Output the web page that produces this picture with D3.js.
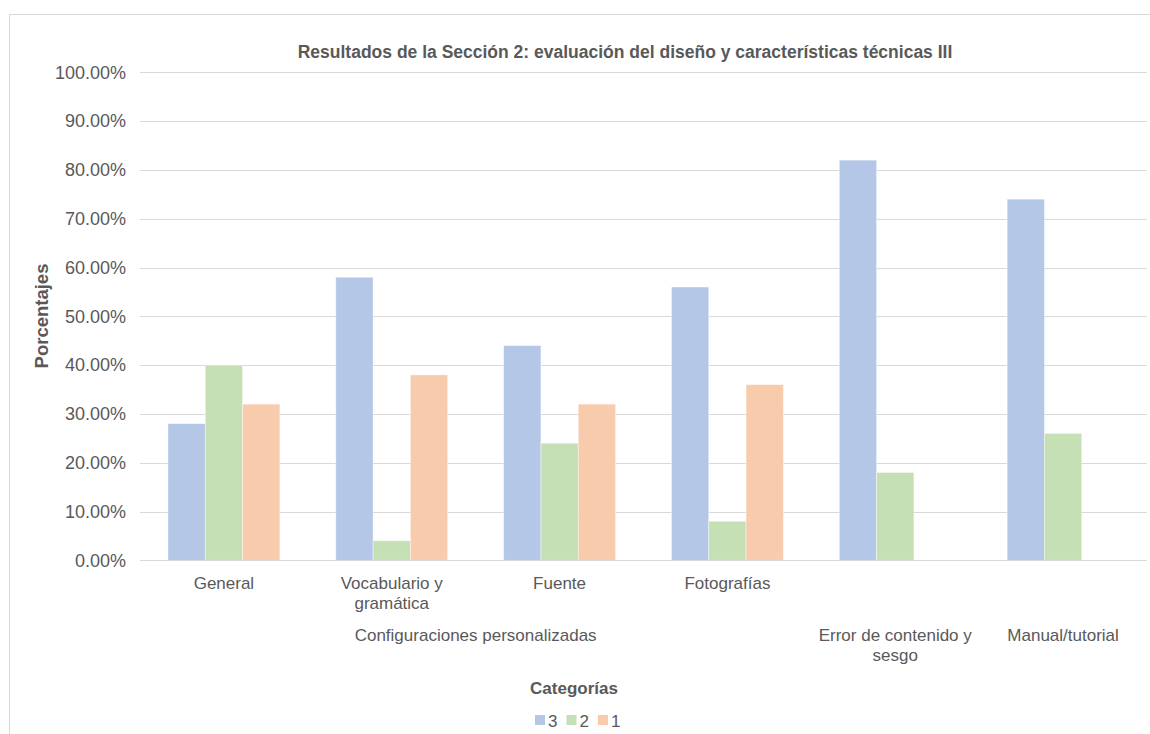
<!DOCTYPE html>
<html>
<head>
<meta charset="utf-8">
<script src="https://cdn.jsdelivr.net/npm/d3@7"></script>
<style>
  html, body { margin: 0; padding: 0; background: #fff; }
  svg { display: block; font-family: "Liberation Sans", Arial, sans-serif; }
</style>
</head>
<body>
<svg id="chart" width="1150" height="734"></svg>
<script>
// Sub-categories (bottom row labels, may wrap to two lines)
const categories = [
  ["General"],
  ["Vocabulario y", "gramática"],
  ["Fuente"],
  ["Fotografías"],
  [""],
  [""]
];
// Outer grouping row: label, first index, last index
const groups = [
  { label: ["Configuraciones personalizadas"], from: 0, to: 3 },
  { label: ["Error de contenido y", "sesgo"], from: 4, to: 4 },
  { label: ["Manual/tutorial"], from: 5, to: 5 }
];
const seriesNames = ["3", "2", "1"];
const values3 = [0.28, 0.58, 0.44, 0.56, 0.82, 0.74];
const values2 = [0.40, 0.04, 0.24, 0.08, 0.18, 0.26];
const values1 = [0.32, 0.38, 0.32, 0.36, null, null];
const yTicks = [0, 0.1, 0.2, 0.3, 0.4, 0.5, 0.6, 0.7, 0.8, 0.9, 1.0];

const title = "Resultados de la Sección 2: evaluación del diseño y características técnicas III";
const yTitle = "Porcentajes";
const xTitle = "Categorías";

const colors = ["#B4C7E7", "#C5E0B4", "#F8CBAD"];
const textColor = "#595959";
const gridColor = "#D9D9D9";

const svg = d3.select("#chart");

// chart border
svg.append("rect")
  .attr("x", 9.5).attr("y", 14.5)
  .attr("width", 1300).attr("height", 900)
  .attr("fill", "#fff").attr("stroke", gridColor).attr("stroke-width", 1);

const plot = { left: 140, right: 1147, top: 72.3, bottom: 560.3 };

const x = d3.scaleBand()
  .domain(d3.range(categories.length))
  .range([plot.left, plot.right])
  .paddingInner(0).paddingOuter(0);

const inner = d3.scaleBand()
  .domain(d3.range(seriesNames.length))
  .range([0, x.bandwidth()])
  .paddingInner(0)
  .paddingOuter(0.75); // 150% gap width split across both sides

const y = d3.scaleLinear().domain([0, 1]).range([plot.bottom, plot.top]);

// gridlines
svg.append("g")
  .selectAll("line")
  .data(yTicks)
  .join("line")
  .attr("x1", plot.left).attr("x2", plot.right)
  .attr("y1", d => Math.round(y(d)) + 0.5).attr("y2", d => Math.round(y(d)) + 0.5)
  .attr("stroke", gridColor).attr("stroke-width", 1.2);

// y-axis labels
const yAxis = d3.axisLeft(y)
  .tickValues(yTicks)
  .tickFormat(d => (d * 100).toFixed(2) + "%")
  .tickSize(0).tickPadding(14);
const yg = svg.append("g").attr("transform", `translate(${plot.left},0)`).call(yAxis);
yg.select(".domain").remove();
yg.selectAll("text")
  .attr("fill", textColor)
  .style("font-size", "18px")
  .style("font-family", "Liberation Sans, Arial, sans-serif");

// bars
const seriesData = [values3, values2, values1];
seriesData.forEach((vals, s) => {
  svg.append("g")
    .selectAll("rect")
    .data(vals.map((v, i) => ({ v, i })).filter(d => d.v !== null))
    .join("rect")
    .attr("x", d => x(d.i) + inner(s))
    .attr("width", inner.bandwidth())
    .attr("y", d => y(d.v))
    .attr("height", d => y(0) - y(d.v))
    .attr("fill", colors[s])
    .attr("stroke", "#ffffff")
    .attr("stroke-opacity", 0.5)
    .attr("stroke-width", 0.8);
});

// baseline
svg.append("line")
  .attr("x1", plot.left).attr("x2", plot.right)
  .attr("y1", Math.round(y(0)) + 0.5).attr("y2", Math.round(y(0)) + 0.5)
  .attr("stroke", gridColor).attr("stroke-width", 1.2);

// category labels (first row)
const lineH = 20;
const catG = svg.append("g");
categories.forEach((lines, i) => {
  const t = catG.append("text")
    .attr("x", x(i) + x.bandwidth() / 2)
    .attr("y", 589)
    .attr("text-anchor", "middle")
    .attr("fill", textColor)
    .style("font-size", "17px");
  lines.forEach((ln, k) => {
    t.append("tspan")
      .attr("x", x(i) + x.bandwidth() / 2)
      .attr("dy", k === 0 ? 0 : lineH)
      .text(ln);
  });
});

// group labels (second row)
groups.forEach(g => {
  const cx = (x(g.from) + x(g.to) + x.bandwidth()) / 2;
  const t = catG.append("text")
    .attr("x", cx)
    .attr("y", 641)
    .attr("text-anchor", "middle")
    .attr("fill", textColor)
    .style("font-size", "17px");
  g.label.forEach((ln, k) => {
    t.append("tspan").attr("x", cx).attr("dy", k === 0 ? 0 : lineH).text(ln);
  });
});

// chart title
svg.append("text")
  .attr("x", 625).attr("y", 58)
  .attr("text-anchor", "middle")
  .attr("fill", textColor)
  .style("font-size", "17.5px")
  .style("font-weight", "bold")
  .text(title);

// axis titles
svg.append("text")
  .attr("transform", "translate(48,316) rotate(-90)")
  .attr("text-anchor", "middle")
  .attr("fill", textColor)
  .style("font-size", "18.5px")
  .style("font-weight", "bold")
  .text(yTitle);

svg.append("text")
  .attr("x", 574).attr("y", 694)
  .attr("text-anchor", "middle")
  .attr("fill", textColor)
  .style("font-size", "17px")
  .style("font-weight", "bold")
  .text(xTitle);

// legend
const legendItems = seriesNames.map((n, i) => ({ n, c: colors[i] }));
const lg = svg.append("g").attr("transform", "translate(535,720)");
let lx = 0;
legendItems.forEach(d => {
  lg.append("rect").attr("x", lx).attr("y", -5).attr("width", 10).attr("height", 10).attr("fill", d.c);
  const t = lg.append("text")
    .attr("x", lx + 13).attr("y", 6.5)
    .attr("fill", textColor)
    .style("font-size", "17px")
    .text(d.n);
  lx += 13 + t.node().getComputedTextLength() + 9;
});
</script>
</body>
</html>
